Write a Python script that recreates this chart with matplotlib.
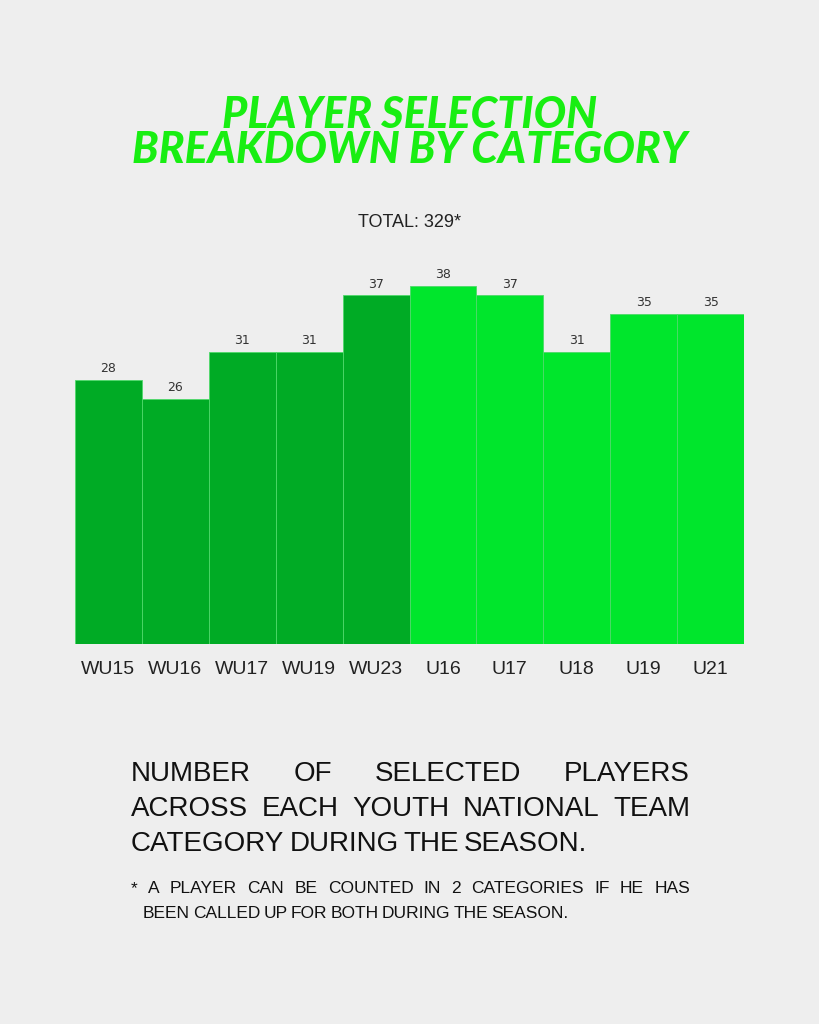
"""
Player selection breakdown by category - bar chart poster
"""

import matplotlib
matplotlib.use("Agg")
import matplotlib.pyplot as plt

# data
categories = ["WU15", "WU16", "WU17", "WU19", "WU23", "U16", "U17", "U18", "U19", "U21"]
players = [28, 26, 31, 31, 37, 38, 37, 31, 35, 35]
is_women = [True, True, True, True, True, False, False, False, False, False]

title_lines = ["PLAYER SELECTION", "BREAKDOWN BY CATEGORY"]
total_text = "TOTAL: 329*"
body_lines = ["NUMBER OF SELECTED PLAYERS",
              "ACROSS EACH YOUTH NATIONAL TEAM",
              "CATEGORY DURING THE SEASON."]
note_lines = ["* A PLAYER CAN BE COUNTED IN 2 CATEGORIES IF HE HAS",
              "BEEN CALLED UP FOR BOTH DURING THE SEASON."]

BG = "#eeeeee"
DARK_GREEN = "#00ab25"
BRIGHT_GREEN = "#00e62c"
TITLE_GREEN = "#18ee12"
NARROW = ["Liberation Sans", "DejaVu Sans"]

W, H = 819, 1024
fig = plt.figure(figsize=(W / 100, H / 100), dpi=100, facecolor=BG)


def fx(px):
    return px / W


def fy(py):
    return 1 - py / H


def justify(words, x0, x1, y, size, last=False):
    """place words so the line fills x0..x1 (pixels)"""
    renderer = fig.canvas.get_renderer()
    texts = [fig.text(0, fy(y), w, fontsize=size, family=NARROW, color="#111111",
                      va="baseline", ha="left") for w in words]
    widths = [t.get_window_extent(renderer).width for t in texts]
    if last or len(words) == 1:
        gap = size * 0.25
    else:
        gap = (x1 - x0 - sum(widths)) / (len(words) - 1)
    x = x0
    for t, wd in zip(texts, widths):
        t.set_x(fx(x))
        x += wd + gap


# title (one text, two lines)
fig.text(0.5, fy(95), "\n".join(title_lines), ha="center", va="top",
         multialignment="center", fontsize=31, linespacing=0.86,
         family=["Lato", "DejaVu Sans"], weight="black", style="italic",
         color=TITLE_GREEN)

fig.text(0.5, fy(227), total_text, ha="center", va="baseline", fontsize=13,
         family=NARROW, color="#222222")

# bar chart
ax = fig.add_axes([fx(75), fy(644), fx(744) - fx(75), (644 - 267) / H])
ax.set_facecolor("none")
colors = [DARK_GREEN if w else BRIGHT_GREEN for w in is_women]
xs = range(len(categories))
ax.bar(xs, players, width=1.0, color=colors, edgecolor="#4fd96a", linewidth=0.6)
for x, v in zip(xs, players):
    ax.text(x, v + 0.5, str(v), ha="center", va="bottom", fontsize=9, color="#333333")
ax.set_xlim(-0.5, len(categories) - 0.5)
ax.set_ylim(0, 40)
ax.set_xticks(list(xs))
ax.set_xticklabels(categories, fontsize=14, family=NARROW, color="#222222")
ax.tick_params(axis="x", length=0, pad=12)
ax.set_yticks([])
for s in ax.spines.values():
    s.set_visible(False)

# body text
fig.canvas.draw()
justify(body_lines[0].split(), 131, 690, 781, 20)
justify(body_lines[1].split(), 131, 690, 816, 20)
justify(body_lines[2].split(), 131, 690, 851, 20, last=True)
justify(note_lines[0].split(), 131, 690, 893, 12.5)
justify(note_lines[1].split(), 143, 690, 918, 12.5, last=True)

fig.savefig("out.png", dpi=100, facecolor=BG)
